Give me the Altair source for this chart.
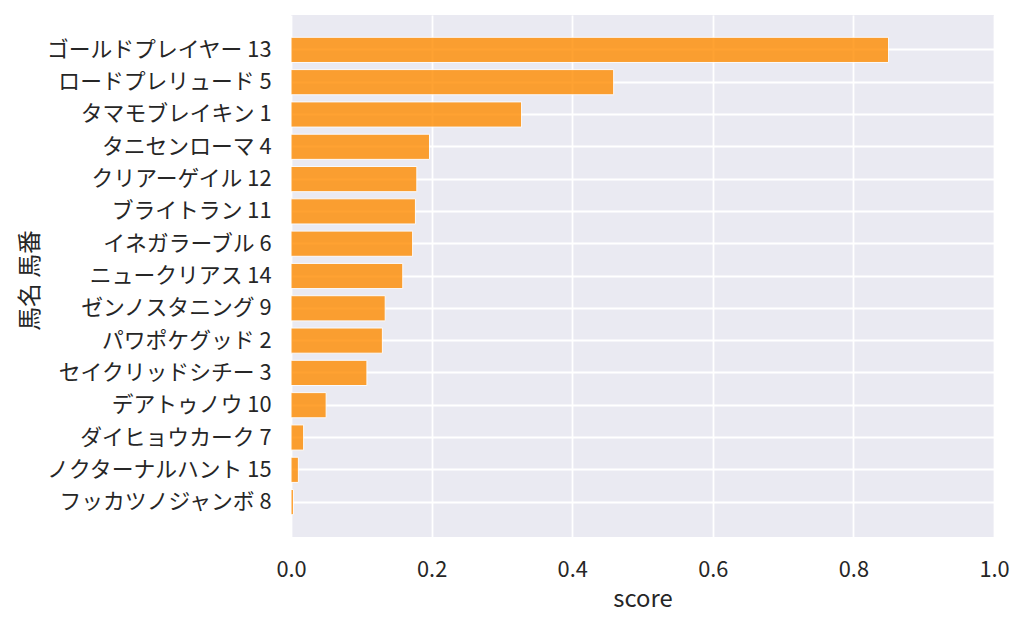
import altair as alt
import pandas as pd

names = [
    "ゴールドプレイヤー 13", "ロードプレリュード 5", "タマモブレイキン 1", "タニセンローマ 4",
    "クリアーゲイル 12", "ブライトラン 11", "イネガラーブル 6", "ニュークリアス 14",
    "ゼンノスタニング 9", "パワポケグッド 2", "セイクリッドシチー 3", "デアトゥノウ 10",
    "ダイヒョウカーク 7", "ノクターナルハント 15", "フッカツノジャンボ 8",
]
scores = [0.850, 0.459, 0.328, 0.197, 0.179, 0.177, 0.173, 0.159,
          0.134, 0.130, 0.108, 0.050, 0.018, 0.0105, 0.0035]
x_ticks = [0.0, 0.2, 0.4, 0.6, 0.8, 1.0]

df = pd.DataFrame({"name": names, "score": scores})
FONT = "Noto Sans CJK JP"

chart = alt.Chart(df).mark_bar(
    color="#FF8C00", opacity=0.8, stroke="white", strokeWidth=1
).encode(
    x=alt.X("score:Q", title="score",
            scale=alt.Scale(domain=[0, 1], nice=False),
            axis=alt.Axis(values=x_ticks, format=".1f", labelPadding=22,
                          titlePadding=7, labelFlush=False)),
    y=alt.Y("name:N", title="馬名 馬番", sort=names,
            scale=alt.Scale(paddingInner=0.22, paddingOuter=0.69),
            axis=alt.Axis(bandPosition=0.5, labelPadding=20,
                          labelLimit=400, titleX=-261, titleY=265,
                          titleAngle=270, titleAlign="center",
                          titleBaseline="middle")),
).properties(
    width=703, height=522,
    autosize=alt.AutoSizeParams(type="none"),
    padding={"left": 283, "top": 7, "right": 20, "bottom": 80},
).configure_view(
    fill="#EAEAF2", stroke=None
).configure_axis(
    domain=False, ticks=False, grid=True, gridColor="white", gridWidth=1.8,
    labelFont=FONT, titleFont=FONT, labelFontSize=21.8, titleFontSize=23.8,
    labelColor="#262626", titleColor="#262626", titleFontWeight="normal",
)

chart.save("out.html", embed_options={"renderer": "svg", "actions": False})
